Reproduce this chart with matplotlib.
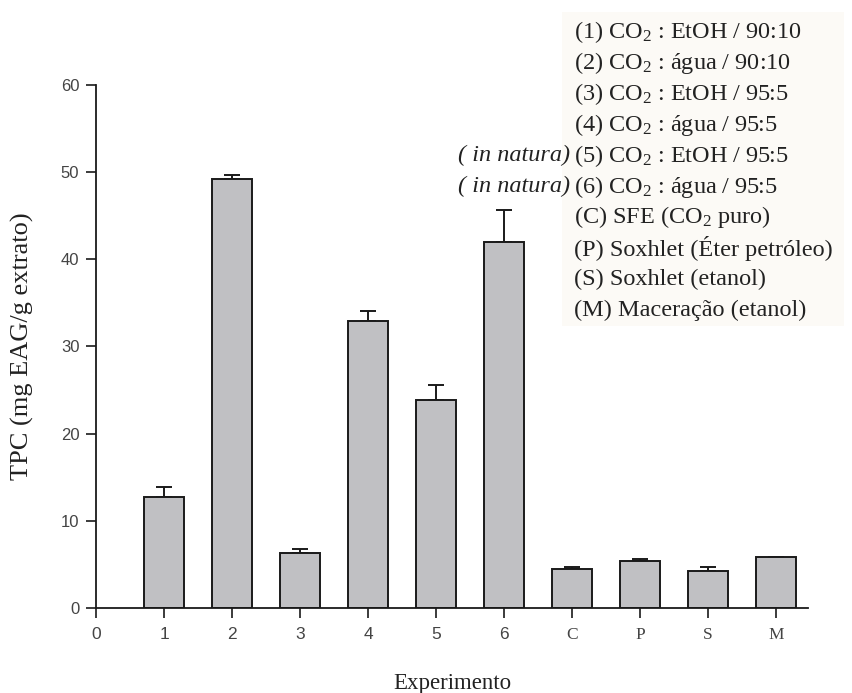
import matplotlib
matplotlib.use("Agg")
import matplotlib.pyplot as plt
from matplotlib.patches import Rectangle

# ---- data ----
categories = ["1", "2", "3", "4", "5", "6", "C", "P", "S", "M"]
tpc_values = [12.7, 49.2, 6.3, 32.9, 23.9, 42.0, 4.5, 5.4, 4.2, 5.9]
tpc_errors = [1.2, 0.5, 0.5, 1.2, 1.7, 3.7, 0.2, 0.2, 0.5, 0.0]
legend_lines = [
    r"(1) CO$_2$ : EtOH / 90:10",
    r"(2) CO$_2$ : água / 90:10",
    r"(3) CO$_2$ : EtOH / 95:5",
    r"(4) CO$_2$ : água / 95:5",
    r"(5) CO$_2$ : EtOH / 95:5",
    r"(6) CO$_2$ : água / 95:5",
    r"(C) SFE (CO$_2$ puro)",
    r"(P) Soxhlet (Éter petróleo)",
    r"(S) Soxhlet (etanol)",
    r"(M) Maceração (etanol)",
]
legend_prefix = {4: "( in natura)", 5: "( in natura)"}
y_ticks = [0, 10, 20, 30, 40, 50, 60]

plt.rcParams["mathtext.fontset"] = "custom"
plt.rcParams["mathtext.rm"] = "Liberation Serif"
plt.rcParams["mathtext.it"] = "Liberation Serif:italic"
plt.rcParams["mathtext.bf"] = "Liberation Serif:bold"

W, H = 852, 693
fig = plt.figure(figsize=(W / 100, H / 100), dpi=100)
ax = fig.add_axes([96 / W, 1 - 608 / H, (808 - 96) / W, (608 - 85) / H])

x = list(range(1, len(categories) + 1))
ax.bar(x, tpc_values, width=0.6, color="#c0c0c3", edgecolor="#1a1a1a",
       linewidth=1.4, zorder=2)
ax.errorbar(x, tpc_values, yerr=[[0] * len(tpc_errors), tpc_errors],
            fmt="none", ecolor="#1a1a1a", elinewidth=1.4, capsize=5.5,
            capthick=1.4, zorder=1)

ax.set_xlim(0, 10.47)
ax.set_ylim(0, 60)
ax.spines["top"].set_visible(False)
ax.spines["right"].set_visible(False)
for s in ("left", "bottom"):
    ax.spines[s].set_linewidth(1.3)
    ax.spines[s].set_color("#1a1a1a")

ax.set_yticks(y_ticks)
ax.set_yticklabels([str(v) for v in y_ticks], fontsize=12,
                   family="Liberation Sans", color="#444444")
ax.set_xticks([0] + x)
ax.set_xticklabels(["0"] + categories, fontsize=12.5, color="#444444")
for lab in ax.get_xticklabels():
    if lab.get_text().isdigit():
        lab.set_family("Liberation Sans")
    else:
        lab.set_family("Liberation Serif")
ax.tick_params(axis="both", direction="out", length=7, width=1.2,
               color="#1a1a1a")
ax.tick_params(axis="x", pad=7)
ax.tick_params(axis="y", pad=5)

ax.set_ylabel("TPC (mg EAG/g extrato)", family="Liberation Serif",
              fontsize=19, color="#222222")
ax.yaxis.set_label_coords((34 - 96) / (808 - 96), 0.5)
ax.set_xlabel("Experimento", family="Liberation Serif", fontsize=16.5,
              color="#222222", labelpad=21)

# faint background of the legend box
fig.patches.append(Rectangle((562 / W, 1 - 326 / H), 282 / W, 314 / H,
                             transform=fig.transFigure, facecolor="#fcfaf6",
                             edgecolor="none", zorder=0))

y0, dy = 32, 30.9
for i, line in enumerate(legend_lines):
    yy = 1 - (y0 + i * dy) / H
    fig.text(574 / W, yy, line, family="Liberation Serif", fontsize=17.5,
             color="#222222", va="center", ha="left")
    if i in legend_prefix:
        fig.text(570 / W, yy, legend_prefix[i], family="Liberation Serif",
                 style="italic", fontsize=17.5, color="#222222",
                 va="center", ha="right")

fig.savefig("out.png", dpi=100)
